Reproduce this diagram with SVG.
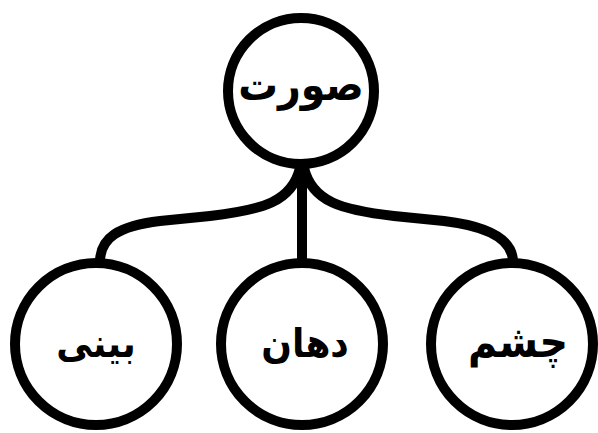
<svg xmlns="http://www.w3.org/2000/svg" width="598" height="433" viewBox="0 0 598 433">
<style>
.node circle{fill:#fff;stroke:#000;stroke-width:10}
.node text{font-family:"DejaVu Sans Condensed","DejaVu Sans",sans-serif;font-weight:bold;font-size:44px;fill:#000;text-anchor:middle}
.edge{fill:none;stroke:#000;stroke-width:10}
</style>
<rect width="598" height="433" fill="#fff"/>
<g id="connectors">
<path class="edge" d="M302 162 L302 265"/>
<path class="edge" d="M300 168 C292 202 262 210 210 216 L160 221 C118 226 100 238 100 262"/>
<path class="edge" d="M304 168 C312 202 342 210 394 216 L444 221 C486 226 513 238 513 262"/>
</g>
<g id="n-root" class="node"><circle cx="301" cy="91" r="73"/><text x="301" y="100">صورت</text></g>
<g id="n-nose" class="node"><circle cx="96" cy="344" r="81"/><text x="96" y="357" style="font-size:40px">بینی</text></g>
<g id="n-mouth" class="node"><circle cx="302" cy="344" r="81"/><text x="305" y="357" style="font-size:40px">دهان</text></g>
<g id="n-eye" class="node"><circle cx="512" cy="344" r="81"/><text x="518" y="357">چشم</text></g>
</svg>
